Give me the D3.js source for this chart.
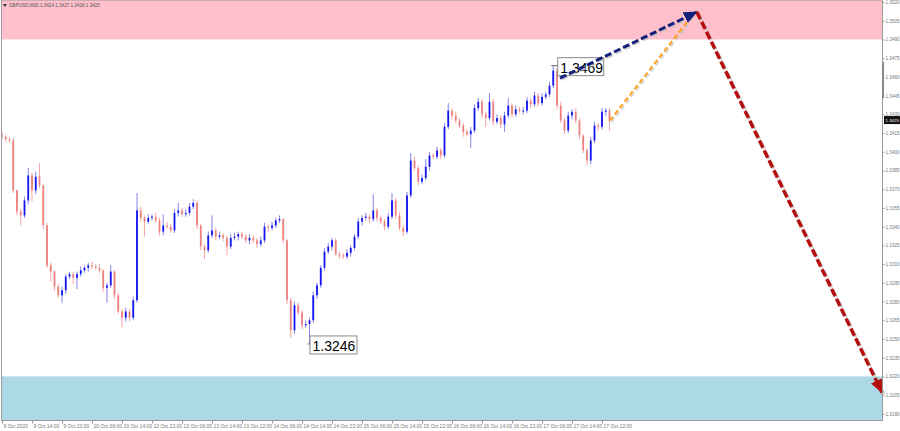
<!DOCTYPE html>
<html>
<head>
<meta charset="utf-8">
<script src="https://cdn.jsdelivr.net/npm/d3@7"></script>
<style>
html, body { margin: 0; padding: 0; background: #fff; }
#chart { width: 900px; height: 431px; }
text { font-family: "Liberation Sans", Arial, sans-serif; }
</style>
</head>
<body>
<div id="chart"></div>
<script>
// GBPUSD hourly closes
const closes = [
    1.3412, 1.3410, 1.3409, 1.3369, 1.3352, 1.3349, 1.3361, 1.3381, 1.3369, 1.3380,
    1.3373, 1.3341, 1.3309, 1.3304, 1.3292, 1.3285, 1.3289, 1.3300, 1.3302, 1.3299,
    1.3302, 1.3305, 1.3307, 1.3309, 1.3308, 1.3307, 1.3305, 1.3291, 1.3293, 1.3304,
    1.3285, 1.3272, 1.3267, 1.3272, 1.3267, 1.3281, 1.3353, 1.3347, 1.3344, 1.3347,
    1.3348, 1.3345, 1.3336, 1.3341, 1.3340, 1.3337, 1.3351, 1.3353, 1.3350, 1.3351,
    1.3356, 1.3359, 1.3341, 1.3324, 1.3321, 1.3333, 1.3337, 1.3332, 1.3333, 1.3331,
    1.3324, 1.3331, 1.3332, 1.3334, 1.3332, 1.3329, 1.3331, 1.3329, 1.3326, 1.3329,
    1.3340, 1.3339, 1.3341, 1.3345, 1.3346, 1.3329, 1.3281, 1.3257, 1.3277, 1.3271,
    1.3261, 1.3262, 1.3265, 1.3285, 1.3293, 1.3307, 1.3320, 1.3324, 1.3329, 1.3318,
    1.3317, 1.3316, 1.3319, 1.3323, 1.3332, 1.3344, 1.3347, 1.3348, 1.3346, 1.3353,
    1.3347, 1.3344, 1.3340, 1.3348, 1.3361, 1.3349, 1.3339, 1.3336, 1.3365, 1.3393,
    1.3387, 1.3376, 1.3379, 1.3388, 1.3397, 1.3396, 1.3401, 1.3397, 1.3420, 1.3433,
    1.3429, 1.3425, 1.3421, 1.3416, 1.3414, 1.3417, 1.3435, 1.3440, 1.3430, 1.3427,
    1.3440, 1.3424, 1.3427, 1.3422, 1.3429, 1.3437, 1.3430, 1.3434, 1.3433, 1.3433,
    1.3441, 1.3438, 1.3445, 1.3439, 1.3444, 1.3446, 1.3453, 1.3465, 1.3437, 1.3425,
    1.3417, 1.3429, 1.3432, 1.3425, 1.3413, 1.3401, 1.3393, 1.3409, 1.3421, 1.3420,
    1.3432, 1.3433, 1.3425
]
const firstOpen = 1.3414

// wick lengths in pips above / below the body
const upWick = [
    2, 1, 2, 2, 1, 2, 3, 6, 2, 4,
    11, 1, 2, 2, 1, 2, 3, 2, 2, 2,
    2, 3, 2, 2, 3, 2, 3, 1, 2, 5,
    1, 2, 2, 3, 2, 3, 14, 3, 2, 3,
    2, 3, 2, 9, 3, 2, 3, 6, 2, 3,
    3, 3, 2, 1, 2, 3, 12, 2, 3, 2,
    2, 3, 3, 2, 2, 2, 3, 2, 2, 3,
    3, 2, 3, 2, 3, 1, 1, 2, 3, 2,
    2, 3, 2, 3, 2, 2, 3, 3, 2, 2,
    2, 2, 3, 2, 2, 3, 2, 3, 2, 13,
    2, 2, 2, 3, 6, 2, 3, 2, 3, 6,
    3, 2, 3, 6, 3, 2, 3, 2, 3, 6,
    2, 3, 2, 2, 2, 3, 3, 3, 2, 2,
    7, 2, 3, 2, 3, 6, 2, 3, 2, 3,
    3, 2, 3, 2, 3, 2, 3, 4, 2, 3,
    2, 3, 2, 3, 2, 1, 2, 3, 3, 2,
    3, 2, 2
]
const downWick = [
    2, 2, 2, 2, 3, 8, 2, 3, 9, 3,
    2, 3, 2, 8, 3, 2, 6, 3, 2, 5,
    9, 2, 2, 3, 2, 2, 2, 3, 12, 2,
    3, 2, 8, 3, 3, 2, 2, 3, 12, 2,
    2, 2, 3, 3, 2, 2, 2, 3, 2, 2,
    2, 2, 3, 3, 7, 2, 2, 3, 2, 3,
    7, 2, 2, 3, 2, 2, 3, 2, 3, 2,
    2, 3, 2, 2, 2, 2, 3, 6, 3, 2,
    3, 2, 16, 2, 3, 2, 2, 2, 3, 2,
    3, 2, 2, 3, 2, 2, 3, 2, 3, 2,
    3, 2, 3, 2, 2, 3, 2, 4, 2, 2,
    2, 3, 2, 2, 3, 2, 2, 3, 2, 2,
    3, 2, 2, 4, 2, 11, 2, 2, 3, 7,
    2, 3, 2, 3, 6, 2, 3, 2, 2, 3,
    2, 3, 2, 3, 2, 2, 2, 2, 3, 2,
    3, 2, 3, 2, 3, 2, 4, 3, 2, 3,
    2, 3, 8
]

const priceTicks = [1.3190, 1.3205, 1.3220, 1.3235, 1.3250, 1.3265, 1.3280, 1.3295, 1.3310,
    1.3325, 1.3340, 1.3355, 1.3370, 1.3385, 1.3400, 1.3415, 1.3430, 1.3445, 1.3460,
    1.3475, 1.3490, 1.3505, 1.3520]
const timeLabels = ["9 Oct 2020", "9 Oct 14:00", "9 Oct 22:00", "10 Oct 06:00", "10 Oct 14:00",
    "12 Oct 22:00", "13 Oct 06:00", "13 Oct 14:00", "13 Oct 22:00", "14 Oct 06:00", "14 Oct 14:00",
    "14 Oct 22:00", "15 Oct 06:00", "15 Oct 14:00", "15 Oct 22:00", "16 Oct 06:00", "16 Oct 14:00",
    "16 Oct 22:00", "17 Oct 06:00", "17 Oct 14:00", "17 Oct 22:00"]
const timeLabelIdx = timeLabels.map((d, i) => i * 8)

const sellZone = [1.3490, 1.3522]
const buyZone = [1.3185, 1.3220]

// wave forecast: [bar index, price]
const waveBlue = [[148.8, 1.3459], [185.3, 1.3512]]
const waveOrange = [[162.1, 1.3425], [183.5, 1.3507]]
const waveRed = [[185.3, 1.3512], [234.7, 1.3207]]

const titleText = "GBPUSD,M30  1.3424 1.3427 1.3418 1.3425"
const lastPrice = 1.3425

const W = 900, H = 431
const plot = { left: 1, right: 882, top: 0, bottom: 420 }

const svg = d3.select("#chart").append("svg").attr("width", W).attr("height", H)

const x = d3.scaleLinear().domain([0, 234.67]).range([2, 882])
const y = d3.scaleLinear().domain([1.3190, 1.3520]).range([413.84, 2])

const candles = closes.map((c, i) => {
    const o = i === 0 ? firstOpen : closes[i - 1]
    return {
        i: i, o: o, c: c,
        h: Math.max(o, c) + upWick[i] / 10000,
        l: Math.min(o, c) - downWick[i] / 10000
    }
})

svg.append("defs").append("clipPath").attr("id", "plotclip")
    .append("rect").attr("x", plot.left).attr("y", plot.top)
    .attr("width", plot.right - plot.left).attr("height", plot.bottom - plot.top)

const g = svg.append("g").attr("clip-path", "url(#plotclip)")

// zones
g.append("rect")
    .attr("x", plot.left).attr("width", plot.right - plot.left)
    .attr("y", y(sellZone[1])).attr("height", y(sellZone[0]) - y(sellZone[1]))
    .attr("fill", "#ffc0cb")
g.append("rect")
    .attr("x", plot.left).attr("width", plot.right - plot.left)
    .attr("y", y(buyZone[1])).attr("height", y(buyZone[0]) - y(buyZone[1]))
    .attr("fill", "#add8e6")

// candles
const bull = d => d.c >= d.o
g.selectAll(".wick").data(candles).join("line")
    .attr("x1", d => x(d.i)).attr("x2", d => x(d.i))
    .attr("y1", d => y(d.h)).attr("y2", d => y(d.l))
    .attr("stroke", d => bull(d) ? "#8585ee" : "#f3a7a7")
    .attr("stroke-width", 1)
g.selectAll(".body").data(candles).join("rect")
    .attr("x", d => x(d.i) - 0.9).attr("width", 1.8)
    .attr("y", d => y(Math.max(d.o, d.c)))
    .attr("height", d => Math.max(1, Math.abs(y(d.o) - y(d.c))))
    .attr("fill", d => bull(d) ? "#1414f0" : "#ef8080")

// extreme labels (drawn under the wave lines)
const fmt = d3.format(".4f")
const hiBar = candles.reduce((a, b) => b.h > a.h ? b : a)
const loBar = candles.reduce((a, b) => b.l < a.l ? b : a)

function priceLabel(bar, price, dx, w) {
    const px = x(bar.i), py = y(price)
    svg.append("line").attr("x1", px - 2).attr("x2", px + dx).attr("y1", py).attr("y2", py)
        .attr("stroke", "#666")
    svg.append("rect").attr("x", px + dx).attr("y", py - 8).attr("width", w).attr("height", 18)
        .attr("fill", "#fff").attr("stroke", "#8a8a8a")
    svg.append("text").attr("x", px + dx + 2.5).attr("y", py + 7.5)
        .attr("fill", "#000").style("font-size", "14px").text(fmt(price))
}
priceLabel(hiBar, hiBar.h, 4.5, 46)
priceLabel(loBar, loBar.l, 0.5, 47)

// arrows
const defs = svg.select("defs")
function marker(id, color) {
    defs.append("marker").attr("id", id)
        .attr("markerUnits", "userSpaceOnUse")
        .attr("markerWidth", 14).attr("markerHeight", 12)
        .attr("refX", 13).attr("refY", 6).attr("orient", "auto")
        .append("path").attr("d", "M0,0 L14,6 L0,12 Z").attr("fill", color)
}
marker("arrBlue", "#15207a")
marker("arrRed", "#b50f0f")

const line = d3.line().x(d => x(d[0])).y(d => y(d[1]))

function wave(pts, color, width, dash, mk) {
    svg.append("path").attr("d", line(pts))
        .attr("transform", "translate(1.5,1.5)")
        .attr("fill", "none").attr("stroke", "#bbbbbb").attr("stroke-opacity", 0.6)
        .attr("stroke-width", width).attr("stroke-dasharray", dash)
    const p = svg.append("path").attr("d", line(pts))
        .attr("fill", "none").attr("stroke", color)
        .attr("stroke-width", width).attr("stroke-dasharray", dash)
    if (mk) p.attr("marker-end", `url(#${mk})`)
}
wave(waveOrange, "#ffa11a", 2, "5,3", null)
wave(waveBlue, "#15207a", 3, "7,3", "arrBlue")
wave(waveRed, "#b50f0f", 3.5, "8,3", "arrRed")

// frame
svg.append("rect").attr("x", plot.left + 0.5).attr("y", plot.top)
    .attr("width", plot.right - plot.left).attr("height", plot.bottom - plot.top + 0.5)
    .attr("fill", "none").attr("stroke", "#9a9a9a").attr("stroke-width", 1)

// right price axis
const yAxis = d3.axisRight(y).tickValues(priceTicks).tickFormat(d3.format(".4f")).tickSize(2)
const ya = svg.append("g").attr("transform", `translate(${plot.right + 0.5},0)`).call(yAxis)
ya.select(".domain").remove()
ya.selectAll("line").attr("stroke", "#999")
ya.selectAll("text").attr("x", 3).attr("fill", "#777").style("font-size", "4.6px")
    .style("font-family", "'Liberation Sans', Arial, sans-serif")

svg.append("rect").attr("x", plot.right).attr("width", 2)
    .attr("y", y(1.3472)).attr("height", y(1.3443) - y(1.3472)).attr("fill", "#8a8a8a")

// last price tag
svg.append("rect").attr("x", plot.right + 2).attr("y", y(lastPrice) - 4.5)
    .attr("width", 16).attr("height", 8).attr("fill", "#111")
svg.append("text").attr("x", plot.right + 3.5).attr("y", y(lastPrice) + 1.5)
    .attr("fill", "#fff").style("font-size", "4.4px").text(d3.format(".4f")(lastPrice))

// bottom time axis
const xAxis = d3.axisBottom(x).tickValues(timeLabelIdx).tickFormat((d, i) => timeLabels[i]).tickSize(3)
const xa = svg.append("g").attr("transform", `translate(0,${plot.bottom + 0.5})`).call(xAxis)
xa.select(".domain").remove()
xa.selectAll("line").attr("stroke", "#999")
xa.selectAll("text").attr("text-anchor", "start").attr("dx", "1").attr("y", 3.5)
    .attr("fill", "#777").style("font-size", "5px")
    .style("font-family", "'Liberation Sans', Arial, sans-serif")

// title
svg.append("path").attr("d", "M3,4 L7,4 L5,7 Z").attr("fill", "#333")
svg.append("text").attr("x", 9).attr("y", 7).attr("fill", "#555")
    .style("font-size", "4.6px").text(titleText)
</script>
</body>
</html>
